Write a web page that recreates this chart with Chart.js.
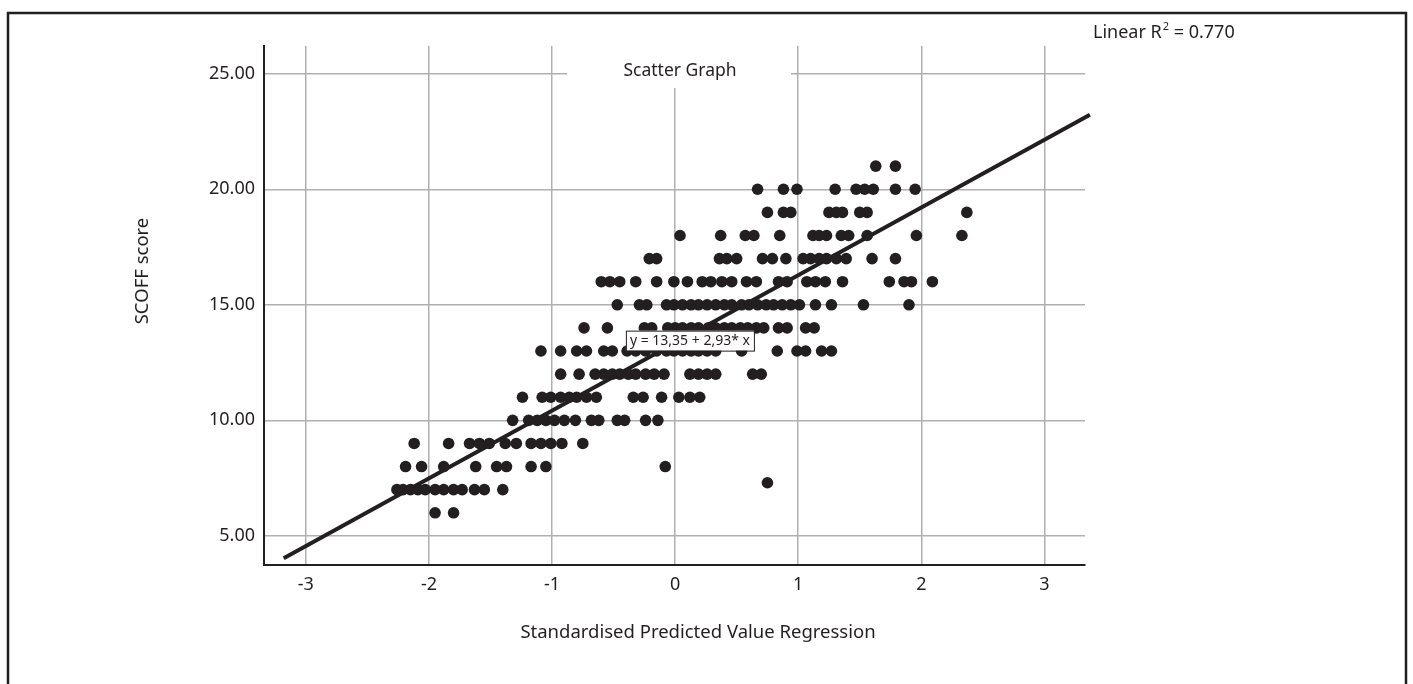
<!DOCTYPE html>
<html>
<head>
<meta charset="utf-8">
<script src="https://cdn.jsdelivr.net/npm/chart.js@4.4.1/dist/chart.umd.min.js"></script>
<style>
  html, body { margin: 0; padding: 0; background: #fff; }
  #wrap { position: relative; width: 1413px; height: 684px; overflow: hidden; }
</style>
</head>
<body>
<div id="wrap"><canvas id="scatter" width="1413" height="684"></canvas></div>
<script>
// SCOFF score rows -> standardised predicted values
const scoff21 = [1.63, 1.79];
const scoff20 = [0.67, 0.88, 0.99, 1.30, 1.47, 1.54, 1.61, 1.79, 1.95];
const scoff19 = [0.75, 0.88, 0.94, 1.25, 1.31, 1.36, 1.50, 1.56, 2.37];
const scoff18 = [0.04, 0.37, 0.57, 0.64, 0.85, 1.12, 1.17, 1.23, 1.35, 1.41, 1.56, 1.96, 2.33];
const scoff17 = [-0.21, -0.15, 0.36, 0.42, 0.50, 0.71, 0.79, 0.90, 1.04, 1.10, 1.17, 1.23, 1.31, 1.39, 1.60, 1.79];
const scoff16 = [-0.60, -0.53, -0.45, -0.32, -0.15, -0.01, 0.10, 0.22, 0.29, 0.38, 0.46, 0.58, 0.66, 0.84, 0.91, 1.07, 1.14, 1.22, 1.36, 1.74, 1.86, 1.92, 2.09];
const scoff15 = [-0.47, -0.29, -0.23, -0.07, -0.01, 0.06, 0.13, 0.19, 0.26, 0.33, 0.40, 0.46, 0.54, 0.60, 0.67, 0.74, 0.80, 0.87, 0.94, 1.01, 1.14, 1.27, 1.53, 1.90];
const scoff14 = [-0.74, -0.55, -0.25, -0.19, -0.06, 0.00, 0.06, 0.13, 0.19, 0.27, 0.33, 0.40, 0.46, 0.53, 0.59, 0.66, 0.72, 0.84, 0.91, 1.06, 1.13];
const scoff13 = [-1.09, -0.93, -0.80, -0.72, -0.58, -0.51, -0.39, -0.32, -0.24, -0.15, -0.07, -0.01, 0.06, 0.13, 0.19, 0.26, 0.33, 0.54, 0.83, 0.99, 1.06, 1.19, 1.27];
const scoff12 = [-0.93, -0.78, -0.65, -0.58, -0.51, -0.45, -0.38, -0.32, -0.24, -0.17, -0.09, 0.12, 0.19, 0.26, 0.33, 0.63, 0.70];
const scoff11 = [-1.24, -1.08, -1.01, -0.93, -0.86, -0.80, -0.72, -0.64, -0.34, -0.26, -0.11, 0.03, 0.12, 0.20];
const scoff10 = [-1.32, -1.19, -1.12, -1.05, -0.98, -0.90, -0.81, -0.68, -0.62, -0.47, -0.41, -0.24, -0.14];
const scoff9 = [-2.12, -1.84, -1.67, -1.59, -1.51, -1.38, -1.29, -1.17, -1.09, -1.01, -0.92, -0.75];
const scoff8 = [-2.19, -2.06, -1.88, -1.62, -1.45, -1.37, -1.17, -1.05, -0.08];
const scoff7_3 = [0.75];
const scoff7 = [-2.26, -2.21, -2.15, -2.09, -2.03, -1.95, -1.88, -1.80, -1.73, -1.63, -1.55, -1.40];
const scoff6 = [-1.95, -1.80];

const rowScores = [21, 20, 19, 18, 17, 16, 15, 14, 13, 12, 11, 10, 9, 8, 7.3, 7, 6];
const rowValues = [scoff21, scoff20, scoff19, scoff18, scoff17, scoff16, scoff15, scoff14,
                   scoff13, scoff12, scoff11, scoff10, scoff9, scoff8, scoff7_3, scoff7, scoff6];

// fit line end points (y = 13,35 + 2,93 * x)
const fitX = [-3.18, 3.37];
const fitY = [4.03, 23.22];

const xTicks = [-3, -2, -1, 0, 1, 2, 3];
const yTicks = [5, 10, 15, 20, 25];
const yTickLabels = ['5.00', '10.00', '15.00', '20.00', '25.00'];

const ink = '#231f20';
const gridGrey = '#b0b0b0';
const fontFamily = '"Noto Sans", "Open Sans", sans-serif';

// build points
const points = [];
rowValues.forEach((xs, i) => {
    xs.forEach(x => points.push({x: x, y: rowScores[i]}));
});
const fitLine = fitX.map((x, i) => ({x: x, y: fitY[i]}));

// extra text / frame
const decorations = {
    id: 'decorations',
    beforeDraw(chart) {
        const c = chart.ctx;
        c.save();
        c.fillStyle = '#fff';
        c.fillRect(0, 0, chart.width, chart.height);
        c.restore();
    },
    beforeDatasetsDraw(chart) {
        const c = chart.ctx;
        c.save();
        // white patch behind the graph title
        c.fillStyle = '#fff';
        c.fillRect(567, 46, 224, 42);
        c.fillStyle = ink;
        c.font = '17.5px ' + fontFamily;
        c.textAlign = 'center';
        c.textBaseline = 'middle';
        c.fillText('Scatter Graph', 680, 71);
        c.restore();
    },
    afterDraw(chart) {
        const c = chart.ctx;
        const xs = chart.scales.x, ys = chart.scales.y;
        c.save();
        // outer frame
        c.strokeStyle = ink;
        c.lineWidth = 2.5;
        c.strokeRect(8, 13, 1398, 700);

        // axis titles
        c.fillStyle = ink;
        c.font = '18.5px ' + fontFamily;
        c.textAlign = 'center';
        c.textBaseline = 'middle';
        c.fillText('Standardised Predicted Value Regression', 698, 633);
        c.translate(143, 271);
        c.rotate(-Math.PI / 2);
        c.fillText('SCOFF score', 0, 0);
        c.restore();

        // R squared
        c.save();
        c.fillStyle = ink;
        c.font = '18px ' + fontFamily;
        c.textBaseline = 'middle';
        c.textAlign = 'left';
        let tx = 1093;
        c.fillText('Linear R', tx, 33);
        tx += c.measureText('Linear R').width;
        c.font = '11px ' + fontFamily;
        c.fillText('2', tx + 1, 27);
        tx += c.measureText('2').width + 1;
        c.font = '18px ' + fontFamily;
        c.fillText(' = 0.770', tx, 33);

        // equation box
        const bx = xs.getPixelForValue(-0.40);
        const by = ys.getPixelForValue(13.45);
        c.font = '14px ' + fontFamily;
        const eq = 'y = 13,35 + 2,93* x';
        const w = c.measureText(eq).width + 8;
        c.fillStyle = '#fff';
        c.fillRect(bx, by - 10, w, 20);
        c.strokeStyle = ink;
        c.lineWidth = 1;
        c.strokeRect(bx + 0.5, by - 9.5, w, 20);
        c.fillStyle = ink;
        c.fillText(eq, bx + 4, by + 0.5);
        c.restore();
    }
};

const ctx = document.getElementById('scatter').getContext('2d');
new Chart(ctx, {
    type: 'scatter',
    data: {
        datasets: [{
            label: 'SCOFF score',
            data: points,
            backgroundColor: ink,
            borderWidth: 0,
            pointRadius: 5.8,
            pointHoverRadius: 5.8
        }, {
            type: 'line',
            label: 'Linear fit',
            data: fitLine,
            borderColor: ink,
            borderWidth: 4,
            pointRadius: 0,
            fill: false,
            clip: false
        }]
    },
    options: {
        responsive: false,
        animation: false,
        layout: { padding: { top: 46, right: 328, left: 0, bottom: 0 } },
        plugins: {
            legend: { display: false },
            tooltip: { enabled: false }
        },
        scales: {
            x: {
                type: 'linear',
                min: -3.34,
                max: 3.33,
                afterBuildTicks: axis => { axis.ticks = xTicks.map(v => ({value: v})); },
                afterFit: axis => { axis.height = 119; },
                grid: { color: gridGrey, lineWidth: 1.5, drawTicks: false },
                border: { color: ink, width: 2 },
                ticks: {
                    padding: 9,
                    color: ink,
                    font: { family: fontFamily, size: 18 },
                    callback: v => String(v)
                }
            },
            y: {
                type: 'linear',
                min: 3.74,
                max: 26.2,
                afterBuildTicks: axis => { axis.ticks = yTicks.map(v => ({value: v})); },
                afterFit: axis => { axis.width = 264; },
                grid: { color: gridGrey, lineWidth: 1.5, drawTicks: false },
                border: { color: ink, width: 2 },
                ticks: {
                    padding: 9,
                    color: ink,
                    font: { family: fontFamily, size: 18 },
                    callback: v => yTickLabels[yTicks.indexOf(v)]
                }
            }
        }
    },
    plugins: [decorations]
});
</script>
</body>
</html>
